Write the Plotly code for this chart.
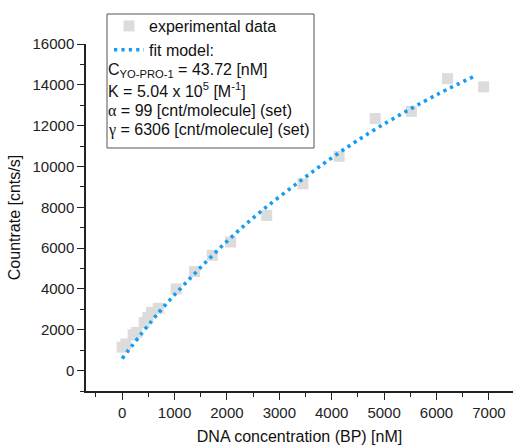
import plotly.graph_objects as go

# Titration data: DNA concentration (base pairs, nM) vs. count rate
dna_conc = [0, 70, 210, 280, 420, 490, 560, 690, 1030, 1380, 1720, 2070,
            2760, 3450, 4140, 4830, 5520, 6210, 6900]
countrate = [1150, 1300, 1750, 1870, 2350, 2600, 2850, 3050, 4000, 4850,
             5650, 6300, 7600, 9150, 10500, 12350, 12700, 14300, 13900]

# Fitted binding curve
fit_conc = [0, 700, 1350, 2020, 2650, 3420, 4100, 4900, 6030, 6770]
fit_rate = [590, 2850, 4660, 6380, 7800, 9330, 10600, 11930, 13550, 14480]

x_ticks = [0, 1000, 2000, 3000, 4000, 5000, 6000, 7000]
y_ticks = [0, 2000, 4000, 6000, 8000, 10000, 12000, 14000, 16000]

fit_params = [
    "C<sub>YO-PRO-1</sub> = 43.72 [nM]",
    "K = 5.04 x 10<sup>5</sup> [M<sup>-1</sup>]",
    "<span style='font-family:Liberation Serif'>α</span> = 99 [cnt/molecule] (set)",
    "<span style='font-family:Liberation Serif'>γ</span> = 6306 [cnt/molecule] (set)",
]

FONT = "Liberation Sans, Arial, sans-serif"
W, H = 513, 446
ML, MR, MT, MB = 86, 0, 44, 55
PW, PH = W - ML - MR, H - MT - MB


def px_x(p):
    return (p - ML) / PW


def px_y(p):
    return (H - MB - p) / PH


fig = go.Figure()
fig.add_trace(go.Scatter(
    x=dna_conc, y=countrate, mode="markers", name="experimental data",
    marker=dict(symbol="square", size=11, color="#dcdcdc", line=dict(width=0)),
))
fig.add_trace(go.Scatter(
    x=fit_conc, y=fit_rate, mode="lines", name="fit model:",
    line=dict(color="#139ef3", width=3.6, dash="3.2px,4.2px", shape="spline"),
))

axis_common = dict(
    showgrid=False, zeroline=False, showline=True, linecolor="#222",
    linewidth=1.5, ticks="outside", ticklen=7, tickwidth=1.3, tickcolor="#222",
    tickfont=dict(family=FONT, size=15, color="#222"),
    minor=dict(ticks="outside", ticklen=4, tickwidth=1.2, tickcolor="#222"),
)

fig.update_xaxes(
    range=[-690, 7460], tickvals=x_ticks, ticktext=[str(v) for v in x_ticks],
    title=dict(text="DNA concentration (BP) [nM]",
               font=dict(family=FONT, size=16, color="#111"), standoff=11),
    minor_dtick=500, minor_tick0=500,
    **axis_common,
)
fig.update_yaxes(
    range=[-1000, 16000], tickvals=y_ticks, ticktext=[str(v) for v in y_ticks],
    title=dict(text="Countrate [cnts/s]",
               font=dict(family=FONT, size=16, color="#111"), standoff=8),
    minor_dtick=1000, minor_tick0=1000,
    **axis_common,
)

# Legend frame
fig.add_shape(type="rect", xref="paper", yref="paper",
              x0=px_x(107), x1=px_x(314), y0=px_y(148), y1=px_y(14),
              line=dict(color="#555", width=1), fillcolor="rgba(0,0,0,0)")

for i, txt in enumerate(fit_params):
    fig.add_annotation(
        text=txt, xref="paper", yref="paper", x=px_x(106), y=px_y(70 + 20 * i),
        xanchor="left", yanchor="middle", showarrow=False,
        font=dict(family=FONT, size=16, color="#111"),
    )

fig.update_layout(
    width=W, height=H,
    margin=dict(l=ML, r=MR, t=MT, b=MB, autoexpand=False),
    plot_bgcolor="white", paper_bgcolor="white",
    showlegend=True,
    legend=dict(x=px_x(109), y=px_y(9), xanchor="left", yanchor="top",
                bgcolor="rgba(0,0,0,0)", borderwidth=0,
                font=dict(family=FONT, size=16, color="#111"),
                tracegroupgap=0),
)

fig.write_html("out.html")
